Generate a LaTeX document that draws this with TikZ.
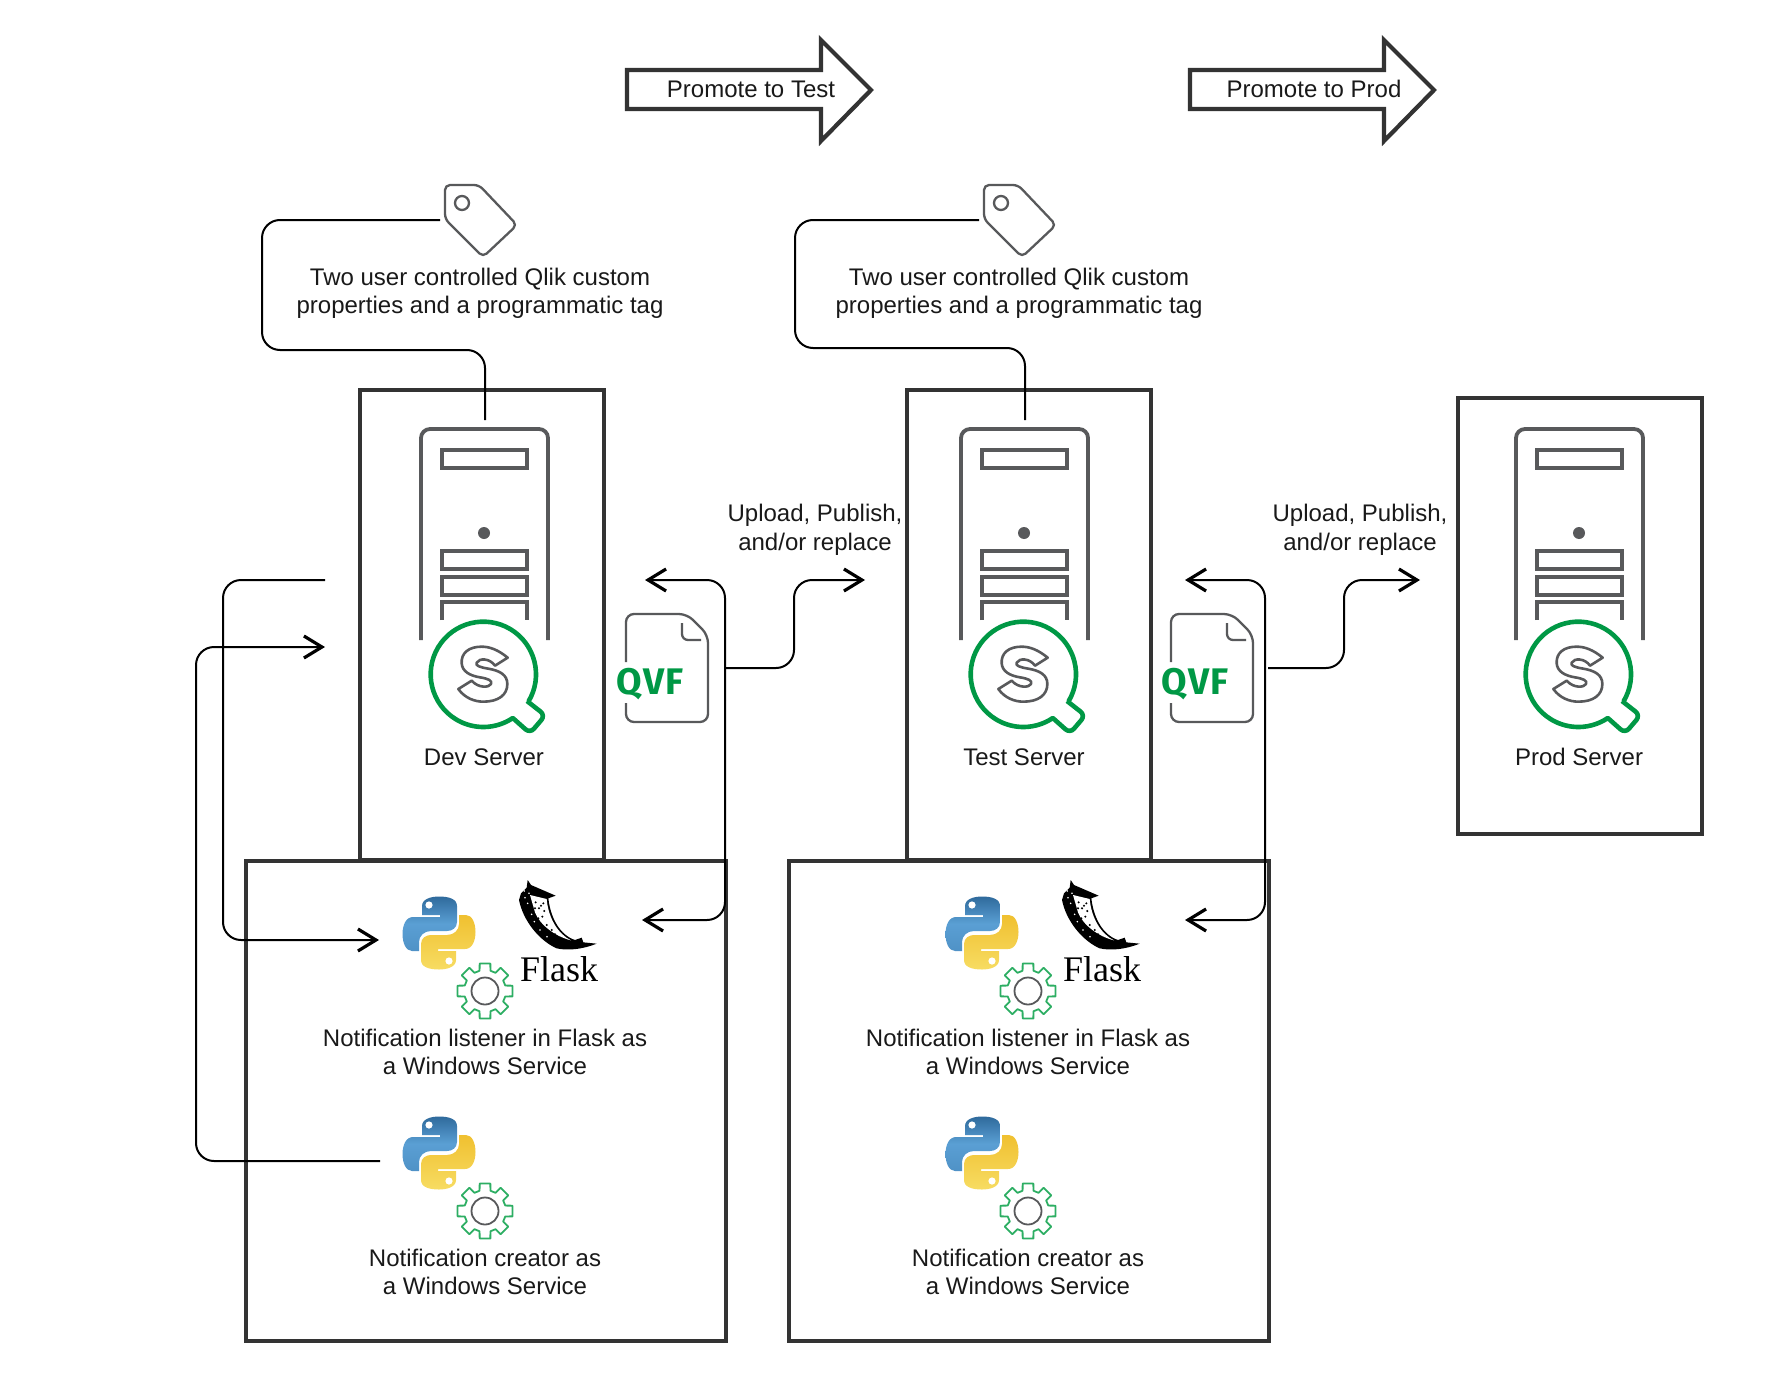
\documentclass[tikz,border=0pt]{standalone}
\usepackage{fontspec}
\setmainfont{Liberation Sans}
\newfontfamily\qvffont[BoldFont={Fira Sans Bold}]{Fira Sans}
\newfontfamily\flaskfont{Liberation Serif}
\usetikzlibrary{arrows.meta}
\definecolor{frame}{HTML}{333333}
\definecolor{icongray}{HTML}{58595B}
\definecolor{qlikgreen}{HTML}{009845}
\definecolor{geargreen}{HTML}{2DAE63}
\definecolor{pyblueA}{HTML}{5A9FD4}
\definecolor{pyblueB}{HTML}{2F6A9C}
\definecolor{pyyelA}{HTML}{F7DC62}
\definecolor{pyyelB}{HTML}{F0C030}
\tikzset{
  boxframe/.style={draw=frame,line width=2pt,inner sep=0pt},
  bigarrow/.style={draw=frame,line width=2.1pt,miter limit=10},
  conn/.style={draw=black,line width=1pt,rounded corners=9pt},
  barb/.style={-{Straight Barb[length=9pt,width=11pt,line width=1.6pt]}},
  iconline/.style={draw=icongray,line width=1.9pt},
  thinicon/.style={draw=icongray,line width=1.15pt},
  label/.style={align=center,font=\fontsize{12}{14.25}\selectfont,inner sep=0pt,text=black!90}
}
\newcommand{\qlikserver}[1]{%
  \begin{scope}[shift={(#1,0)}]
    \draw[iconline,rounded corners=4.5pt] (421,640) -- (421,429) -- (548,429) -- (548,640);
    \draw[iconline] (442,450) rectangle (527,468);
    \fill[icongray] (484,533) circle (6);
    \draw[iconline] (442,551) rectangle (527,569);
    \draw[iconline] (442,577) rectangle (527,595);
    \draw[iconline] (442,620) -- (442,602) -- (527,602) -- (527,620);
    \begin{scope}[shift={(430,620)},x=0.16667pt,y=-0.16667pt]
      \draw[qlikgreen,line width=2.3pt,line join=round,fill=white]
        (160,163) ++(31:158) arc[start angle=31,end angle=-304,radius=158]
        [rounded corners=3pt] -- (300,340) -- (346,286) -- (291,243);
      \draw[draw=icongray,line width=1.3pt,line join=round]
        (233,113) .. controls (205,90) and (180,80) .. (155,80)
        .. controls (115,80) and (93,100) .. (95,130)
        .. controls (97,155) and (120,167) .. (150,172)
        .. controls (175,176) and (188,182) .. (183,192)
        .. controls (178,203) and (145,205) .. (125,182)
        -- (85,207)
        .. controls (105,235) and (135,245) .. (160,245)
        .. controls (205,245) and (232,225) .. (232,192)
        .. controls (232,165) and (210,152) .. (175,146)
        .. controls (150,142) and (135,137) .. (140,128)
        .. controls (148,113) and (180,115) .. (195,137)
        -- cycle;
    \end{scope}
  \end{scope}}
\newcommand{\qvfdoc}[1]{%
  \begin{scope}[shift={(#1,0)}]
    \draw[thinicon,rounded corners=4pt] (626,662) -- (626,614) -- (687,614) -- (708,635) -- (708,722) -- (626,722) -- (626,703);
    \draw[thinicon,rounded corners=3pt] (682,623) -- (682,640) -- (701,640);
    \node[inner sep=0pt,text=qlikgreen,font=\qvffont\bfseries\fontsize{18.5}{18.5}\selectfont] at (650,684) {Q\kern0.8pt V\kern0.8pt F};
  \end{scope}}
\newcommand{\tagicon}[1]{%
  \begin{scope}[shift={(#1,0)}]
    \draw[thinicon,line join=round,rounded corners=2.5pt] (445,219) -- (445,185) -- (479,185) -- (517,225) -- (483,257) -- cycle;
    \draw[thinicon] (462,203) circle (7);
  \end{scope}}
\newcommand{\pylogo}[2]{%
  \begin{scope}[shift={(#1,#2)}]
    \def\snake{(-17,-27) .. controls (-17,-34) and (-8,-36.5) .. (0,-36.5) .. controls (10,-36.5) and (18,-34) .. (18,-27)
      -- (18,-11) .. controls (18,-5) and (13,-2) .. (8,-2) -- (-8,-2) .. controls (-15,-2) and (-20,3) .. (-20,9)
      -- (-20,18) -- (-27,18) .. controls (-33,18) and (-36.5,10) .. (-36.5,1) .. controls (-36.5,-8) and (-33,-16) .. (-26,-16)
      -- (1,-16) -- (1,-18) -- (-17,-18) -- cycle}
    \shadedraw[draw=none,top color=pyblueB,bottom color=pyblueA!75!pyblueB,middle color=pyblueA] \snake;
    \begin{scope}[rotate=180]
      \shadedraw[draw=none,top color=pyyelB,bottom color=pyyelA] \snake;
      \fill[white] (-10,-28) circle (3.6);
    \end{scope}
    \fill[white] (-10,-28) circle (3.6);
  \end{scope}}
\newcommand{\gearicon}[2]{%
  \begin{scope}[shift={(#1,#2)}]
    \draw[geargreen,line width=0.9pt,line join=round] (-11:28)
      \foreach \a in {0,45,...,315} { -- (\a+11:28) -- (\a+15:21) -- (\a+30:21) -- (\a+34:28) } -- cycle;
    \draw[thinicon,line width=0.9pt] (0,0) circle (13.5);
  \end{scope}}
\newcommand{\flaskicon}[1]{%
  \begin{scope}[shift={(#1,0)}]
    \begin{scope}[shift={(515,875)},x=0.16667pt,y=-0.16667pt]
      \fill[black] (38,15) -- (48,30) -- (122,62) -- (100,70)
        .. controls (107,130) and (135,180) .. (180,195) -- (200,188) -- (205,202) -- (245,206)
        .. controls (205,222) and (160,228) .. (125,220)
        .. controls (75,198) and (25,140) .. (12,75) -- (18,55) -- (35,38) -- cycle;
      \fill[white] (45,60) -- (95,72) .. controls (100,130) and (130,178) .. (168,196)
        .. controls (120,184) and (75,150) .. (60,112) -- cycle;
      \foreach \p in {(62,82),(72,100),(82,125),(95,150),(78,92),(88,108),(110,165),(70,130),(120,178),(60,100),(85,85),(100,168)}
        \fill[black] \p circle (3.4);
      \foreach \p in {(30,68),(42,55),(38,85),(28,48),(50,118),(58,140),(75,165),(96,185)}
        \fill[white] \p circle (2.6);
    \end{scope}
    \node[inner sep=0pt,anchor=base,font=\flaskfont\fontsize{18}{18}\selectfont] at (559,981) {Flask};
  \end{scope}}
\begin{document}
\begin{tikzpicture}[x=0.5pt,y=-0.5pt]
\useasboundingbox (0,0) rectangle (1780,1380);
% promote arrows
\draw[bigarrow] (627,70) -- (821,70) -- (821,40) -- (871,90) -- (821,141) -- (821,109) -- (627,109) -- cycle;
\node[label] (promoteTest) at (751,89) {Promote to Test};
\draw[bigarrow] (1190,70) -- (1384,70) -- (1384,40) -- (1434,90) -- (1384,141) -- (1384,109) -- (1190,109) -- cycle;
\node[label] (promoteProd) at (1314,89) {Promote to Prod};
% boxes
\node[boxframe,minimum width=122pt,minimum height=235pt] (devbox) at (482,625) {};
\node[boxframe,minimum width=122pt,minimum height=235pt] (testbox) at (1029,625) {};
\node[boxframe,minimum width=122pt,minimum height=218pt] (prodbox) at (1580,616) {};
\node[boxframe,minimum width=240pt,minimum height=240pt] (devlower) at (485.5,1101) {};
\node[boxframe,minimum width=240pt,minimum height=240pt] (testlower) at (1028.5,1101) {};
% icons
\tagicon{0}\tagicon{539}
\qlikserver{0}\qlikserver{540}\qlikserver{1095}
\qvfdoc{0}\qvfdoc{545}
\pylogo{439}{933}\pylogo{982}{933}\pylogo{439}{1153}\pylogo{982}{1153}
\gearicon{485}{991}\gearicon{1028}{991}\gearicon{485}{1211}\gearicon{1028}{1211}
\flaskicon{0}\flaskicon{543}
% labels
\node[label] (tagtextA) at (480,293.5) {Two user controlled Qlik custom\\properties and a programmatic tag};
\node[label] (tagtextB) at (1019,293.5) {Two user controlled Qlik custom\\properties and a programmatic tag};
\node[label] (uploadA) at (815,530) {Upload, Publish,\\and/or replace};
\node[label] (uploadB) at (1360,530) {Upload, Publish,\\and/or replace};
\node[label] (devname) at (484,757) {Dev Server};
\node[label] (testname) at (1024,757) {Test Server};
\node[label] (prodname) at (1579,757) {Prod Server};
\node[label] (listenA) at (485,1052) {Notification listener in Flask as\\a Windows Service};
\node[label] (listenB) at (1028,1052) {Notification listener in Flask as\\a Windows Service};
\node[label] (creatorA) at (485,1272) {Notification creator as\\a Windows Service};
\node[label] (creatorB) at (1028,1272) {Notification creator as\\a Windows Service};
% connector ends
\coordinate (tagA) at (440,220); \coordinate (tagBendA1) at (262,220); \coordinate (tagBendA2) at (262,350); \coordinate (tagBendA3) at (485,350); \coordinate (srvA) at (485,420);
\coordinate (tagB) at (979,220); \coordinate (tagBendB1) at (795,220); \coordinate (tagBendB2) at (795,348); \coordinate (tagBendB3) at (1025,348); \coordinate (srvB) at (1025,420);
\draw[conn] (tagA) -- (tagBendA1) -- (tagBendA2) -- (tagBendA3) -- (srvA);
\draw[conn] (tagB) -- (tagBendB1) -- (tagBendB2) -- (tagBendB3) -- (srvB);
% upload connectors
\coordinate (upAs) at (724,668); \coordinate (upAe) at (865,580);
\coordinate (upBs) at (1268,668); \coordinate (upBe) at (1420,580);
\draw[conn,barb] (upAs) -- (794,668) -- (794,580) -- (upAe);
\draw[conn,barb] (upBs) -- (1344,668) -- (1344,580) -- (upBe);
% notifications
\coordinate (nAs) at (645,580); \coordinate (nAe) at (642,920);
\coordinate (nBs) at (1185,580); \coordinate (nBe) at (1185,920);
\draw[conn,barb] (725,700) -- (725,580) -- (nAs);
\draw[conn,barb] (725,700) -- (725,920) -- (nAe);
\draw[conn,barb] (1265,700) -- (1265,580) -- (nBs);
\draw[conn,barb] (1265,700) -- (1265,920) -- (nBe);
% left side
\coordinate (lAs) at (325,580); \coordinate (lAe) at (379,940);
\coordinate (lBs) at (380,1161); \coordinate (lBe) at (325,647);
\draw[conn,barb] (lAs) -- (223,580) -- (223,940) -- (lAe);
\draw[conn,barb] (lBs) -- (196,1161) -- (196,647) -- (lBe);
\end{tikzpicture}
\end{document}
